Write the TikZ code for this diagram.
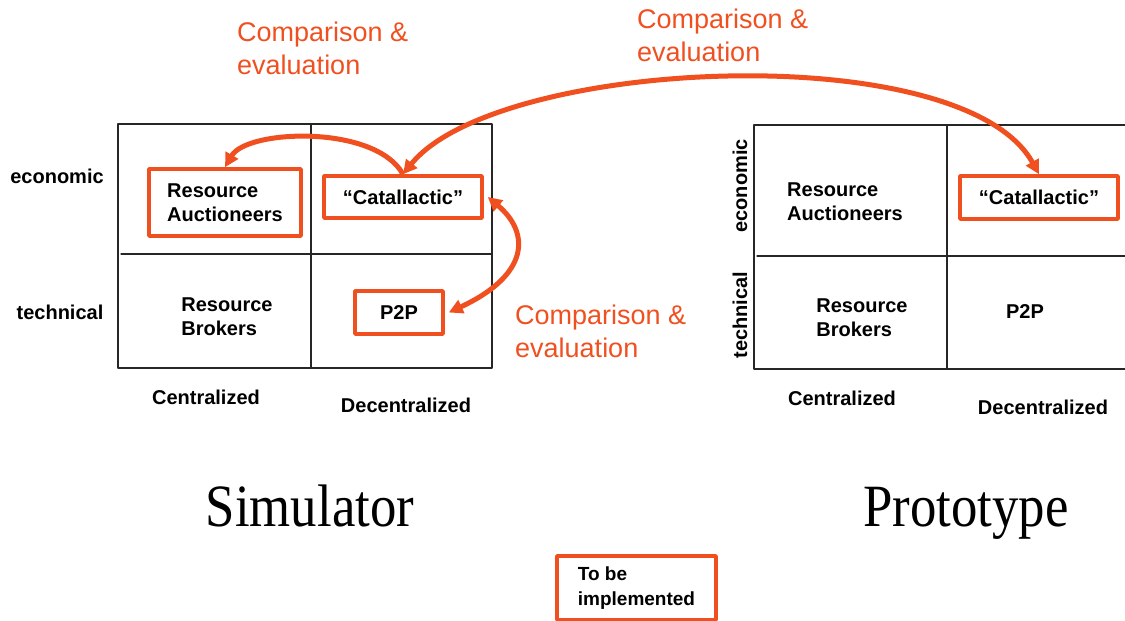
\documentclass[tikz,border=0pt]{standalone}
\usepackage{fontspec}
\usepackage{graphicx}
\setmainfont{Liberation Sans}
\newfontfamily\titlefont{Liberation Serif}
\usetikzlibrary{arrows.meta}
\definecolor{hlorange}{RGB}{240,80,32}
\begin{document}
\begin{tikzpicture}[x=1pt,y=1pt,line join=round,line cap=round,
 grid/.style={draw=black!85,line width=1.3pt},
 cell/.style={font=\bfseries\fontsize{20}{24.5}\selectfont,align=left,inner sep=0pt},
 hlbox/.style={cell,draw=hlorange,line width=3.5pt},
 note/.style={text=hlorange,font=\fontsize{27}{33}\selectfont,align=left,inner sep=0pt,anchor=north west},
 tip/.tip={Triangle[length=14pt,width=14pt]},
 conn/.style={draw=hlorange,line width=5pt,line cap=butt,-tip}]
 \useasboundingbox (0,0) rectangle (1125,621);
 % simulator
 \draw[grid] (118,253) rectangle (492,497) (311,253)--(311,497) (121,367)--(492,367);
 \node[hlbox,minimum width=152,minimum height=67] (sAuct) at (225,418.5) {Resource\\Auctioneers};
 \node[hlbox,minimum width=158,minimum height=42] (sCat) at (403,424) {“Catallactic”};
 \node[hlbox,minimum width=88,minimum height=43] (sP2P) at (399,308.5) {P2P};
 \node[cell] (sBrok) at (227,304.5) {Resource\\Brokers};
 \node[cell] (sEco) at (57,445) {economic};
 \node[cell] (sTech) at (60,309) {technical};
 \node[cell] (sCen) at (206,224) {Centralized};
 \node[cell] (sDec) at (406,216) {Decentralized};
 \node[anchor=base,font=\titlefont\fontsize{60}{60}\selectfont] (sim) at (310,94) {\scalebox{0.88}[1]{Simulator}};
 % prototype
 \draw[grid] (1125,496)--(754,496)--(754,252)--(1125,252) (947,252)--(947,496) (757,365)--(1125,365);
 \node[cell] (pAuct) at (845,419.5) {Resource\\Auctioneers};
 \node[hlbox,minimum width=158,minimum height=43] (pCat) at (1039,423.5) {“Catallactic”};
 \node[cell] (pBrok) at (862,303.5) {Resource\\Brokers};
 \node[cell] (pP2P) at (1025,309) {P2P};
 \node[cell,rotate=90] (pEco) at (740,435) {economic};
 \node[cell,rotate=90] (pTech) at (740,306) {technical};
 \node[cell] (pCen) at (842,223) {Centralized};
 \node[cell] (pDec) at (1043,214) {Decentralized};
 \node[anchor=base,font=\titlefont\fontsize{60}{60}\selectfont] (proto) at (966,94) {\scalebox{0.88}[1]{Prototype}};
 % comparisons
 \node[note] (cmpA) at (237,599) {Comparison \&\\evaluation};
 \node[note] (cmpB) at (637,612) {Comparison \&\\evaluation};
 \node[note] (cmpC) at (515,316) {Comparison \&\\evaluation};
 \draw[conn,tip-tip] (sCat.north)..controls+(51:150)and+(119:158)..(pCat.north);
 \draw[conn] (sCat.north)..controls+(119:57)and+(60:44)..(sAuct.north);
 \draw[conn,tip-tip] ([xshift=4]sCat.east)..controls+(-40:55)and+(25:90)..([xshift=4]sP2P.east);
 % legend
 \node[hlbox,font=\bfseries\fontsize{19}{25}\selectfont,minimum width=159,minimum height=64] (todo) at (636.5,33) {To be\\implemented};
\end{tikzpicture}
\end{document}
